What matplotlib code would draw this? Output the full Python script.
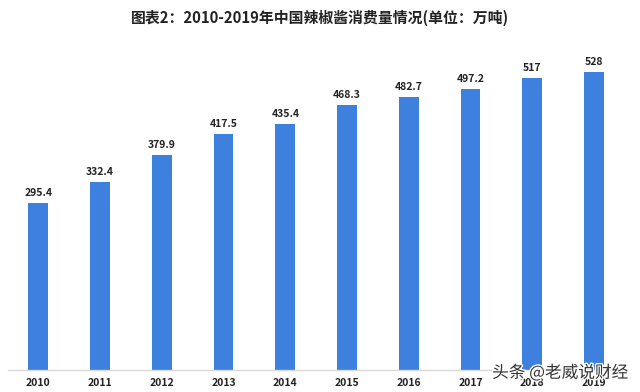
import matplotlib.pyplot as plt
import matplotlib.patheffects as pe

plt.rcParams['font.family'] = ['Noto Sans CJK SC', 'DejaVu Sans']

years = ['2010', '2011', '2012', '2013', '2014', '2015', '2016', '2017', '2018', '2019']
consumption = [295.4, 332.4, 379.9, 417.5, 435.4, 468.3, 482.7, 497.2, 517, 528]
value_labels = ['295.4', '332.4', '379.9', '417.5', '435.4', '468.3', '482.7', '497.2', '517', '528']

fig = plt.figure(figsize=(6.4, 3.92), dpi=100)
ax = fig.add_axes([8 / 640, 22 / 392, 617 / 640, 330 / 392])

x = list(range(len(years)))
ax.bar(x, consumption, width=0.32, color='#3D80DE', zorder=2)

for xi, v, lab in zip(x, consumption, value_labels):
    ax.text(xi, v + 9, lab, ha='center', va='bottom', fontsize=7.5,
            fontweight='bold', color='#222222')

ax.set_xlim(-0.49, 9.5)
ax.set_ylim(0, 584)
ax.set_xticks(x)
ax.set_xticklabels(years, fontsize=7.5, fontweight='bold', color='#222222')
ax.tick_params(axis='x', length=0, pad=6)
ax.set_yticks([])
for side in ['top', 'right', 'left']:
    ax.spines[side].set_visible(False)
ax.spines['bottom'].set_color('#D9D9D9')
ax.spines['bottom'].set_linewidth(1)

fig.text(0.5, 1 - 18 / 392, '图表2：2010-2019年中国辣椒酱消费量情况(单位：万吨)',
         ha='center', va='center', fontsize=10.7, fontweight='bold', color='#222222')

# source watermark in the lower right corner
fig.text(628 / 640, 1 - 373 / 392, '头条 @老威说财经', ha='right', va='center',
         fontsize=12, color='#333333',
         path_effects=[pe.withStroke(linewidth=2, foreground='white')])

fig.savefig('out.png', dpi=100)
